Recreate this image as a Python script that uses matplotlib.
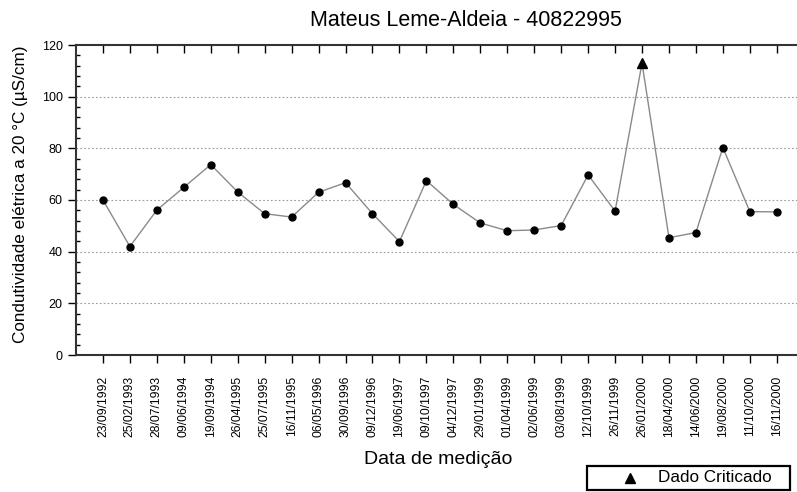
import matplotlib
matplotlib.use("Agg")
import matplotlib.pyplot as plt
from matplotlib.lines import Line2D
from matplotlib.patches import Rectangle
from matplotlib.ticker import MultipleLocator

plt.rcParams['font.family'] = ['Liberation Sans', 'DejaVu Sans']

dates = ["23/09/1992", "25/02/1993", "28/07/1993", "09/06/1994", "19/09/1994",
         "26/04/1995", "25/07/1995", "16/11/1995", "06/05/1996", "30/09/1996",
         "09/12/1996", "19/06/1997", "09/10/1997", "04/12/1997", "29/01/1999",
         "01/04/1999", "02/06/1999", "03/08/1999", "12/10/1999", "26/11/1999",
         "26/01/2000", "18/04/2000", "14/06/2000", "19/08/2000", "11/10/2000",
         "16/11/2000"]
values = [60.0, 42.0, 56.1, 64.9, 73.7, 63.1, 54.7, 53.4, 63.0, 66.7,
          54.7, 43.9, 67.5, 58.3, 51.1, 48.1, 48.4, 50.1, 69.7, 55.7,
          113.0, 45.4, 47.4, 80.3, 55.5, 55.4]
critical_index = [20]
legend_label = "Dado Criticado"

W, H = 797, 492
fig = plt.figure(figsize=(W / 100, H / 100), dpi=100)
ax = fig.add_axes([76 / W, 1 - 355 / H, 1 - 76 / W, 310 / H])

x = list(range(len(dates)))
ax.plot(x, values, color='#8a8a8a', lw=1.0, zorder=2)
normal_x = [i for i in x if i not in critical_index]
normal_y = [values[i] for i in normal_x]
ax.plot(normal_x, normal_y, 'o', color='black', ms=5, zorder=3)
crit_y = [values[i] for i in critical_index]
ax.plot(critical_index, crit_y, '^', color='black', ms=6.5, zorder=3)

ax.set_xlim(-1, 25.75)
ax.set_ylim(0, 120)
ax.set_xticks(x)
ax.set_xticklabels(dates, rotation=90, fontsize=8.7)
ax.yaxis.set_major_locator(MultipleLocator(20))
ax.yaxis.set_minor_locator(MultipleLocator(4))
ax.tick_params(axis='y', which='major', direction='out', length=6, width=1, labelsize=9)
ax.tick_params(axis='y', which='minor', direction='in', length=3, width=1)
ax.tick_params(axis='x', which='major', direction='out', length=6, width=1,
               top=True, pad=9)
for t in ax.xaxis.get_major_ticks():
    t.tick2line.set_marker(3)  # inward on top
for sp in ax.spines.values():
    sp.set_linewidth(1.5)
    sp.set_color('#333333')
ax.spines['right'].set_visible(False)

for yv in [20, 40, 60, 80, 100]:
    ax.axhline(yv, color='#9a9a9a', lw=0.8, ls=(0, (1.5, 2)), zorder=1)

ax.set_ylabel("Condutividade elétrica a 20 °C (µS/cm)", fontsize=12.3)
ax.yaxis.set_label_coords(-0.066, 0.52)
fig.text(438.5 / W, 1 - 460 / H, "Data de medição", fontsize=14,
         ha='center', va='center')
fig.text(465.5 / W, 1 - 21 / H, "Mateus Leme-Aldeia - 40822995", fontsize=15.5,
         ha='center', va='center')

# legend box (manual, to match the reference layout)
box_left, box_right, box_top, box_bottom = 587, 790, 466, 490
fig.add_artist(Rectangle((box_left / W, 1 - box_bottom / H), (box_right - box_left) / W,
                         (box_bottom - box_top) / H, transform=fig.transFigure,
                         facecolor='white', edgecolor='black', lw=1.6))
fig.add_artist(Line2D([630 / W], [1 - 478 / H], marker='^', color='black',
                      ms=7, ls='none', transform=fig.transFigure))
fig.text(658 / W, 1 - 478 / H, legend_label, fontsize=12.3,
         ha='left', va='center')

fig.savefig("out.png", dpi=100)
